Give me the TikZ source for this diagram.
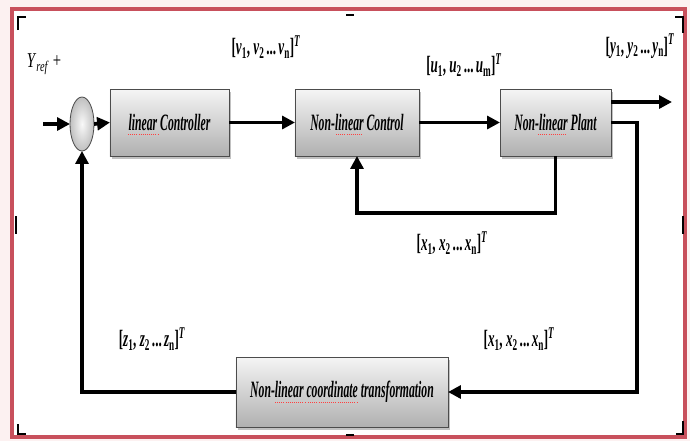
\documentclass[tikz,border=0pt]{standalone}
\usepackage{fontspec}
\usepackage{graphicx}
\setmainfont{Liberation Serif}
\usetikzlibrary{arrows.meta,shadows,calc,shapes.geometric}
\definecolor{frred}{RGB}{200,80,92}
\definecolor{frbg}{RGB}{252,241,241}
\newcommand\cnd[1]{\scalebox{0.5}[1]{\fontsize{20}{20}\selectfont\bfseries\itshape #1}}
\newcommand\vlab[2]{\scalebox{0.56}[1]{\fontsize{20}{20}\selectfont\bfseries [\textit{#1}\textsubscript{1}, \textit{#1}\textsubscript{2}\,...\,\textit{#1}\textsubscript{#2}]\textsuperscript{\textit{T}}}}
\begin{document}
\begin{tikzpicture}[x=0.03cm,y=-0.03cm,
  blk/.style={draw=gray!60!black, line width=0.7pt, top color=gray!8, bottom color=gray!62,
    drop shadow={shadow xshift=2pt, shadow yshift=-2.5pt, fill=gray!60, opacity=0.8},
    rectangle, inner sep=0pt, outer sep=0pt, minimum height=2.01cm},
  sumnode/.style={ellipse, draw=gray!60!black, line width=0.7pt, inner color=gray!5, outer color=gray!50,
    minimum width=0.72cm, minimum height=1.62cm, inner sep=0pt, outer sep=0pt},
  arr/.style={line width=3.2pt, -{Triangle[length=11pt,width=11pt]}},
  cmark/.style={line width=1.8pt, black},
  squig/.style={red!75, line width=0.8pt, densely dotted},
  lab/.style={inner sep=0pt}]
% frame
\useasboundingbox (0,0) rectangle (690,441);
\fill[frbg] (0,0) rectangle (690,441);
\filldraw[fill=white, draw=frred, line width=2.8pt] (12,9) rectangle (685,437);
\draw[cmark] (18,30) -- (18,17) -- (26,17);
\draw[cmark] (675,17) -- (683,17) -- (683,33);
\draw[cmark] (18,424) -- (18,434) -- (26,434);
\draw[cmark] (676,434) -- (683,434) -- (683,421);
\draw[cmark] (346,15) -- (354,15);
\draw[cmark] (346,435) -- (354,435);
\draw[cmark] (16,216) -- (16,234);
\draw[cmark] (683,216) -- (683,234);
% nodes
\node[sumnode] (sum) at (82,124) {};
\node[blk, minimum width=3.57cm] (lc) at (169.5,122.5) {\cnd{linear Controller}};
\node[blk, minimum width=3.72cm] (nlc) at (357,122.5) {\cnd{Non-linear Control}};
\node[blk, minimum width=3.33cm] (pl) at (555.5,122.5) {\cnd{Non-linear Plant}};
\node[blk, minimum width=6.36cm, minimum height=2.1cm] (nlt) at (342,392) {\cnd{Non-linear coordinate transformation}};
% spell-check underlines
\draw[squig] (128,134) -- (158,134);
\draw[squig] (336,134) -- (363,134);
\draw[squig] (538,134) -- (567,134);
\draw[squig] (275,402) -- (305,402);
\draw[squig] (308,402) -- (358,402);
% coordinates
\coordinate (in) at (43,124);
\coordinate (out) at (672,102);
\coordinate (c1) at (637,392);
\coordinate (c2) at (357,213);
% connectors
\draw[arr] (in) -- (sum.west);
\draw[arr] (sum.east) -- (lc.west);
\draw[arr] (lc.east) -- (nlc.west);
\draw[arr] (nlc.east) -- (pl.west);
\draw[arr] (pl.east |- out) -- (out);
\draw[arr] (pl.east) -| (c1) -- (nlt.east);
\draw[arr] (pl.south) |- (c2) -- (nlc.south);
\draw[arr] (nlt.west) -| (sum.south);
% labels
\node[lab] (yref) at (44,64) {\scalebox{0.7}[1]{\fontsize{18}{18}\selectfont\textit{Y}\textsubscript{\textit{ref}} +}};
\node[lab] (lv) at (266,47) {\vlab{v}{n}};
\node[lab] (lu) at (464,65) {\vlab{u}{m}};
\node[lab] (ly) at (640,46) {\vlab{y}{n}};
\node[lab] (lx1) at (452,243) {\vlab{x}{n}};
\node[lab] (lx2) at (519,339) {\vlab{x}{n}};
\node[lab] (lz) at (152,339) {\vlab{z}{n}};
\end{tikzpicture}
\end{document}
